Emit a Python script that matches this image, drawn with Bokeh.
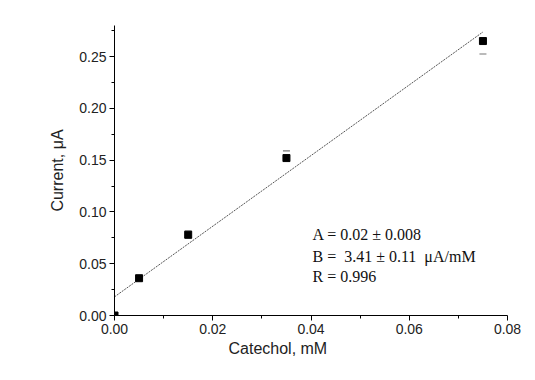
from bokeh.plotting import figure
from bokeh.models import Label, NumeralTickFormatter, FixedTicker, Range1d, Title
from bokeh.embed import file_html
from bokeh.resources import INLINE

# Data
conc_mM = [0.0, 0.005, 0.015, 0.035, 0.075]
current_uA = [0.0, 0.036, 0.078, 0.152, 0.265]

# visible error-bar caps (x, y)
cap_x = [0.015, 0.015, 0.035, 0.075]
cap_y = [0.0815, 0.0748, 0.159, 0.2525]

# linear fit parameters
fit_A = 0.018
fit_B = 3.41
fit_x = [0.0, 0.075]
fit_y = [fit_A + fit_B * x for x in fit_x]

x_ticks = [0.0, 0.02, 0.04, 0.06, 0.08]
y_ticks = [0.0, 0.05, 0.10, 0.15, 0.20, 0.25]

p = figure(width=535, height=380, output_backend="svg", toolbar_location=None,
           x_range=Range1d(0, 0.08), y_range=Range1d(0, 0.28),
           min_border_left=114, min_border_right=28, min_border_top=25, min_border_bottom=65)
p.outline_line_color = None
p.xgrid.visible = False
p.ygrid.visible = False
p.background_fill_color = "white"
p.border_fill_color = "white"

for ax in (p.xaxis, p.yaxis):
    ax.major_label_text_font = "Liberation Sans"
    ax.major_label_text_font_size = "14px"
    ax.major_label_text_color = "#222222"
    ax.axis_line_color = "black"
    ax.major_tick_line_color = "black"
    ax.minor_tick_line_color = "black"
    ax.major_tick_out = 5
    ax.major_tick_in = 0
    ax.minor_tick_out = 3
    ax.minor_tick_in = 0
    ax.formatter = NumeralTickFormatter(format="0.00")
    ax.axis_label_text_font = "Liberation Sans"
    ax.axis_label_text_font_size = "16px"
    ax.axis_label_text_font_style = "normal"
    ax.axis_label_text_color = "#222222"

p.xaxis.ticker = FixedTicker(ticks=x_ticks, minor_ticks=[0.01, 0.03, 0.05, 0.07])
p.yaxis.ticker = FixedTicker(ticks=y_ticks, minor_ticks=[0.025, 0.075, 0.125, 0.175, 0.225, 0.275])
p.xaxis.major_label_standoff = 3
p.yaxis.major_label_standoff = 3
p.yaxis.axis_label = "Current, μA"
p.yaxis.axis_label_standoff = 10

# x-axis label, offset to the left as in the reference
p.add_layout(Title(text="Catechol, mM", align="left", offset=114, standoff=2,
                   text_font="Liberation Sans", text_font_size="16px",
                   text_font_style="normal", text_color="#222222"), "below")

# fit line
p.line(fit_x, fit_y, line_color="#555555", line_width=1, line_dash="2 1")

# error caps
p.dash(cap_x, cap_y, size=7, line_color="#777777", line_width=1.2)

# data points
p.scatter(conc_mM, current_uA, marker="square", size=7, fill_color="black", line_color="black")

fit_lines = ["A = 0.02 ± 0.008", "B =\u00a0 3.41 ± 0.11 \u00a0μA/mM", "R = 0.996"]
fit_line_y = [0.0785, 0.057, 0.0375]
for t, yy in zip(fit_lines, fit_line_y):
    p.add_layout(Label(x=0.0403, y=yy, text=t, text_align="left", text_baseline="middle",
                       text_font="Liberation Serif", text_font_size="16px", text_color="#111111"))

open("out.html", "w").write(file_html(p, INLINE))
